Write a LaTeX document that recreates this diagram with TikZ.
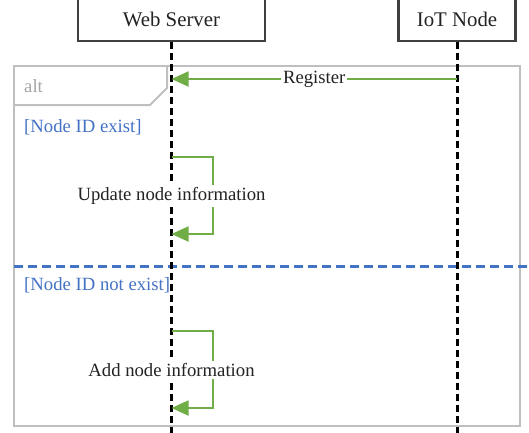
\documentclass[tikz,border=0pt]{standalone}
\usepackage{fontspec}
\setmainfont{Liberation Serif}
\usetikzlibrary{arrows.meta}
\definecolor{msggreen}{RGB}{112,173,71}
\definecolor{guardblue}{RGB}{68,114,196}
\definecolor{framegray}{RGB}{191,191,191}
\definecolor{altgray}{RGB}{165,165,165}
\definecolor{boxgray}{RGB}{64,64,64}
\definecolor{txtdark}{RGB}{35,35,35}
\tikzset{
  txt/.style={font=\fontsize{18.7}{21}\selectfont, inner sep=1pt, text=txtdark},
  actor/.style={draw=boxgray, line width=2.2pt, fill=white, minimum height=44pt, inner sep=0pt, txt, font=\fontsize{20.8}{23}\selectfont},
  lifeline/.style={line width=3pt, dash pattern=on 7pt off 4pt, black},
  msg/.style={draw=msggreen, line width=1.8pt, -{Triangle[length=17pt,width=15pt,fill=msggreen]}},
  msglabel/.style={txt, fill=white, inner sep=2pt},
  guard/.style={txt, text=guardblue, anchor=west},
  framebox/.style={draw=framegray, line width=2pt},
  separator/.style={guardblue, line width=3pt, dash pattern=on 9pt off 5pt}
}
\begin{document}
\begin{tikzpicture}[x=1pt,y=-1pt]
\useasboundingbox (0,0) rectangle (529,432);
% frame
\draw[framebox] (14,66) rectangle (520,426);
\draw[framebox] (14,105) -- (150,105) -- (167,88) -- (167,66);
\node[txt, text=altgray, anchor=west] (altlbl) at (23,86) {alt};
% separator
\draw[separator] (14,266) -- (529,266);
% actors
\node[actor, minimum width=187pt] (ws) at (171.5,19) {Web Server};
\node[actor, minimum width=117pt] (iot) at (457,19) {IoT Node};
% lifelines
\coordinate (wsend) at (ws.south |- 0,440);
\coordinate (iotend) at (iot.south |- 0,440);
\draw[lifeline] (ws.south) -- (wsend);
\draw[lifeline] (iot.south) -- (iotend);
% guards
\node[guard] (g1) at (23,127) {[Node ID exist]};
\node[guard] (g2) at (23,285) {[Node ID not exist]};
% register message
\coordinate (r1) at (iot.south |- 0,79);
\coordinate (r2) at (ws.south |- 0,79);
\draw[msg] (r1) -- node[msglabel, midway] (reglbl) {Register} (r2);
% self message 1
\coordinate (s1a) at (ws.south |- 0,157);
\coordinate (s1b) at (ws.south |- 0,234);
\draw[msg] (s1a) -- (213,157) -- (213,234) -- (s1b);
\node[msglabel] (upd) at (171.5,196) {Update node information};
% self message 2
\coordinate (s2a) at (ws.south |- 0,331);
\coordinate (s2b) at (ws.south |- 0,408);
\draw[msg] (s2a) -- (213,331) -- (213,408) -- (s2b);
\node[msglabel] (add) at (171.5,370) {Add node information};
\end{tikzpicture}
\end{document}
